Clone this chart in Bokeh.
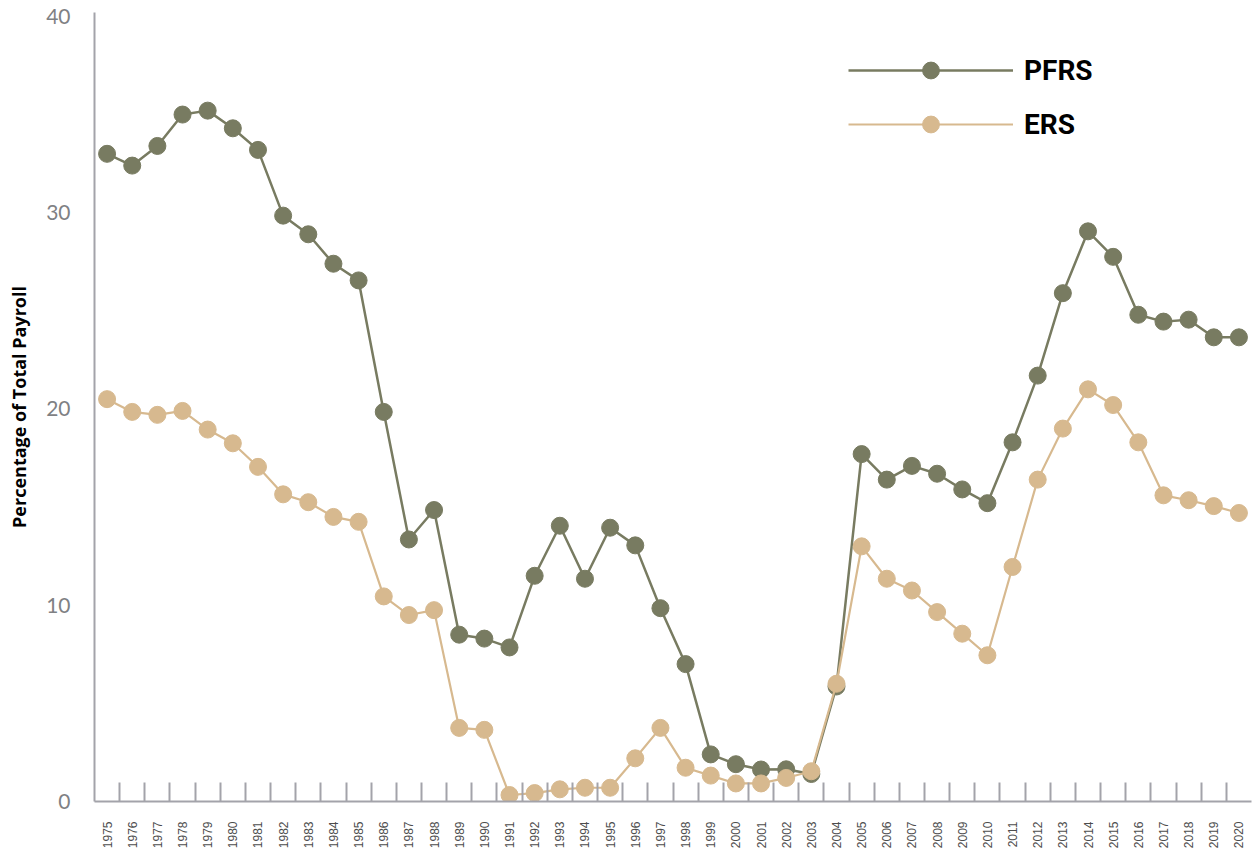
from bokeh.plotting import figure
from bokeh.models import Range1d, FixedTicker, Legend, LegendItem
from bokeh.embed import file_html
from bokeh.resources import INLINE
import math

years = list(range(1975, 2021))
pfrs = [33.0, 32.4, 33.4, 35.0, 35.2, 34.3, 33.2, 29.85, 28.9, 27.4,
        26.55, 19.85, 13.35, 14.85, 8.5, 8.3, 7.85, 11.5, 14.05, 11.35,
        13.95, 13.05, 9.85, 7.0, 2.4, 1.9, 1.63, 1.64, 1.4, 5.86,
        17.7, 16.4, 17.1, 16.7, 15.9, 15.2, 18.3, 21.7, 25.9, 29.05,
        27.75, 24.8, 24.45, 24.55, 23.65, 23.65]
ers = [20.5, 19.85, 19.7, 19.9, 18.95, 18.25, 17.05, 15.65, 15.25, 14.5,
       14.25, 10.45, 9.5, 9.75, 3.75, 3.65, 0.33, 0.43, 0.62, 0.7,
       0.7, 2.2, 3.75, 1.72, 1.32, 0.92, 0.92, 1.2, 1.54, 6.0,
       13.0, 11.35, 10.75, 9.65, 8.55, 7.45, 11.95, 16.4, 19.0, 21.0,
       20.2, 18.3, 15.6, 15.35, 15.05, 14.7]
y_ticks = [0, 10, 20, 30, 40]

PFRS_COLOR = "#787b61"
ERS_COLOR = "#d7b98f"
AXIS_COLOR = "#a3a3aa"

p = figure(width=1252, height=851, output_backend="svg", toolbar_location=None,
           x_range=Range1d(years[0] - 0.5, years[-1] + 0.5),
           y_range=Range1d(0, 40.2),
           min_border_left=94, min_border_right=1, min_border_top=12, min_border_bottom=48)
p.outline_line_color = None
p.grid.grid_line_color = None
p.background_fill_color = "white"
p.border_fill_color = "white"

# X axis: labels at years, separator ticks between years
xa = p.xaxis[0]
xa.ticker = FixedTicker(ticks=years, minor_ticks=[y + 0.5 for y in years[:-1]])
xa.major_tick_line_color = None
xa.minor_tick_in = 19
xa.minor_tick_out = 0
xa.minor_tick_line_color = AXIS_COLOR
xa.minor_tick_line_width = 2
xa.axis_line_color = AXIS_COLOR
xa.axis_line_width = 2
xa.major_label_orientation = math.pi / 2
xa.major_label_text_font_size = "12px"
xa.major_label_text_color = "#4d4d4d"
xa.major_label_text_font = "Liberation Sans"
xa.major_label_standoff = 14

ya = p.yaxis[0]
ya.ticker = FixedTicker(ticks=y_ticks)
ya.major_tick_line_color = None
ya.minor_tick_line_color = None
ya.axis_line_color = AXIS_COLOR
ya.axis_line_width = 2
ya.major_label_text_font_size = "21px"
ya.major_label_text_color = "#7f8184"
ya.major_label_text_font = "Lato"
ya.major_label_standoff = 18
ya.axis_label = "Percentage of Total Payroll"
ya.axis_label_text_font = "Open Sans"
ya.axis_label_text_font_style = "bold"
ya.axis_label_text_font_size = "18px"
ya.axis_label_text_color = "black"
ya.axis_label_standoff = 12

l1 = p.line(years, pfrs, line_color=PFRS_COLOR, line_width=2.5)
c1 = p.scatter(years, pfrs, size=17, fill_color=PFRS_COLOR, line_color=PFRS_COLOR)
l2 = p.line(years, ers, line_color=ERS_COLOR, line_width=2.2)
c2 = p.scatter(years, ers, size=17, fill_color=ERS_COLOR, line_color=ERS_COLOR)

legend = Legend(items=[LegendItem(label="PFRS", renderers=[l1, c1]),
                       LegendItem(label="ERS", renderers=[l2, c2])],
                location=(754, 656), orientation="vertical",
                glyph_width=165, glyph_height=42, spacing=12, padding=0, margin=0,
                label_standoff=11,
                label_text_font="Roboto",
                label_text_font_style="bold", label_text_font_size="28px",
                label_text_color="black",
                border_line_color=None, background_fill_alpha=0)
p.add_layout(legend)

open("out.html", "w").write(file_html(p, INLINE))
